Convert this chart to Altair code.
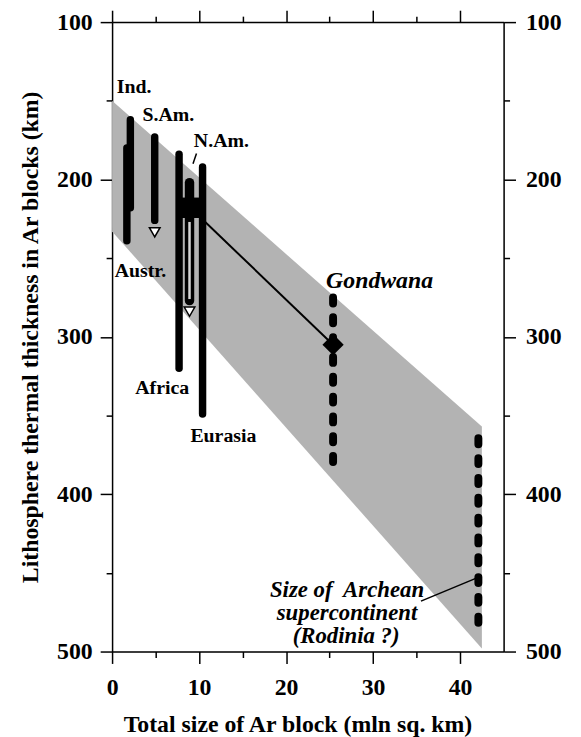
import altair as alt
import pandas as pd

# ---- data ----
band_x = [0, 42.5]
band_top = [150, 357]
band_bottom = [233, 498]

solid_names = ["Ind.", "Austr.", "S.Am.", "Africa", "Eurasia"]
solid_x = [2.1, 1.7, 4.9, 7.7, 10.4]
solid_top = [162, 180, 173, 184, 192]
solid_bottom = [218, 239, 226, 320, 349]

nam_x = [8.9]
nam_top = [202]
nam_bottom = [277]
nam_hollow_top = [227]
nam_hollow_bottom = [276]

arrow_x = [4.9, 8.9]
arrow_y = [233.6, 284]

avg_x = [7.7]
avg_x2 = [10.4]
avg_y = [211.5]
avg_y2 = [224.5]

trend_x = [9.0, 25.4]
trend_y = [218, 305]

gond_x = [25.4]
gond_y = [305]

dash_names = ["Gondwana", "Archean"]
dash_x = [25.4, 42.1]
dash_top = [275, 364.5]
dash_bottom = [387, 490]

leader_x = [9.3, 35.5]
leader_x2 = [9.7, 41.8]
leader_y = [190, 468]
leader_y2 = [183.5, 453.5]

lab_text = ["Ind.", "S.Am.", "N.Am.", "Austr.", "Africa", "Eurasia"]
lab_x = [0.55, 3.5, 9.4, 0.3, 2.66, 9.0]
lab_y = [141.4, 159.2, 175.6, 258.4, 332.6, 363]

it_text = ["Gondwana"]
it_x = [24.6]
it_y = [264.7]

arch_text = ["Size of\u00a0 Archean", "supercontinent", "(Rodinia ?)"]
arch_x = [27.0, 27.0, 26.9]
arch_y = [461.2, 475.6, 490]

x_ticks = [0, 5, 10, 15, 20, 25, 30, 35, 40]
y_ticks = [100, 150, 200, 250, 300, 350, 400, 450, 500]

FONT = "Liberation Serif"

XS = alt.Scale(domain=[0, 45], nice=False, zero=False)
YS = alt.Scale(domain=[100, 500], nice=False, zero=False, reverse=True)

tick_x = {"condition": {"test": "datum.value % 10 === 0", "value": 12}, "value": 6}
tick_y = {"condition": {"test": "datum.value % 100 === 0", "value": 12}, "value": 6}

common_axis = dict(
    domainColor="black", domainWidth=1.5, tickColor="black", tickWidth=1.5,
    labelFont=FONT, labelFontSize=24, labelFontWeight="bold", labelColor="black",
    titleFont=FONT, titleFontSize=24, titleFontWeight="bold", titleColor="black",
    grid=False, labelFlush=False, labelOverlap=False,
)

ax_bottom = alt.Axis(orient="bottom", values=x_ticks, tickSize=tick_x,
                     labelExpr="datum.value % 10 === 0 ? datum.label : ''",
                     labelPadding=12, title="Total size of Ar block (mln sq. km)",
                     titlePadding=14, titleX=187, titleAlign="center", **common_axis)
ax_left = alt.Axis(orient="left", values=y_ticks, tickSize=tick_y,
                   labelExpr="datum.value % 100 === 0 ? datum.label : ''",
                   labelPadding=8,
                   title="Lithosphere thermal thickness in Ar blocks (km)",
                   titlePadding=14, **common_axis)
ax_top = alt.Axis(orient="top", values=x_ticks, tickSize=tick_x, labels=False,
                  title=None, **common_axis)
ax_right = alt.Axis(orient="right", values=y_ticks, tickSize=tick_y,
                    labelExpr="datum.value % 100 === 0 ? datum.label : ''",
                    labelPadding=10, title=None, **common_axis)

band_df = pd.DataFrame({"x": band_x, "top": band_top, "bottom": band_bottom})
band = alt.Chart(band_df).mark_area(color="#b3b3b3", opacity=1).encode(
    x=alt.X("x:Q", scale=XS, axis=ax_bottom),
    y=alt.Y("top:Q", scale=YS, axis=ax_left),
    y2="bottom:Q",
)

frame = alt.Chart(band_df).mark_point(opacity=0).encode(
    x=alt.X("x:Q", scale=XS, axis=ax_top),
    y=alt.Y("top:Q", scale=YS, axis=ax_right),
)

trend_df = pd.DataFrame({"x": trend_x, "y": trend_y})
trend = alt.Chart(trend_df).mark_line(color="black", strokeWidth=2).encode(
    x=alt.X("x:Q", scale=XS, axis=None),
    y=alt.Y("y:Q", scale=YS, axis=None),
)

solid_df = pd.DataFrame({"name": solid_names, "x": solid_x, "top": solid_top, "bottom": solid_bottom})
solid = alt.Chart(solid_df).mark_rule(color="black", strokeWidth=7.5, strokeCap="round").encode(
    x=alt.X("x:Q", scale=XS, axis=None),
    y=alt.Y("top:Q", scale=YS, axis=None),
    y2="bottom:Q",
)

nam_df = pd.DataFrame({"x": nam_x, "top": nam_top, "bottom": nam_bottom,
                       "ht": nam_hollow_top, "hb": nam_hollow_bottom})
nam = alt.Chart(nam_df).mark_rule(color="black", strokeWidth=9.5, strokeCap="round").encode(
    x=alt.X("x:Q", scale=XS, axis=None),
    y=alt.Y("top:Q", scale=YS, axis=None),
    y2="bottom:Q",
)
nam_in = alt.Chart(nam_df).mark_rule(color="#d8d8d8", strokeWidth=2.5).encode(
    x=alt.X("x:Q", scale=XS, axis=None),
    y=alt.Y("ht:Q", scale=YS, axis=None),
    y2="hb:Q",
)

avg_df = pd.DataFrame({"x": avg_x, "x2": avg_x2, "y": avg_y, "y2": avg_y2})
avg = alt.Chart(avg_df).mark_rect(color="black").encode(
    x=alt.X("x:Q", scale=XS, axis=None), x2="x2:Q",
    y=alt.Y("y:Q", scale=YS, axis=None), y2="y2:Q",
)

arrow_df = pd.DataFrame({"x": arrow_x, "y": arrow_y})
arrows = alt.Chart(arrow_df).mark_point(shape="triangle-down", filled=True, fill="white",
                                        stroke="black", strokeWidth=1.5, size=115, opacity=1).encode(
    x=alt.X("x:Q", scale=XS, axis=None),
    y=alt.Y("y:Q", scale=YS, axis=None),
)

dash_df = pd.DataFrame({"name": dash_names, "x": dash_x, "top": dash_top, "bottom": dash_bottom})
dashed = alt.Chart(dash_df).mark_rule(color="black", strokeWidth=8, strokeCap="round",
                                      strokeDash=[6, 14]).encode(
    x=alt.X("x:Q", scale=XS, axis=None),
    y=alt.Y("top:Q", scale=YS, axis=None),
    y2="bottom:Q",
)

gond_df = pd.DataFrame({"x": gond_x, "y": gond_y})
diamond = alt.Chart(gond_df).mark_point(shape="diamond", filled=True, color="black",
                                        size=460, opacity=1).encode(
    x=alt.X("x:Q", scale=XS, axis=None),
    y=alt.Y("y:Q", scale=YS, axis=None),
)

lead_df = pd.DataFrame({"x": leader_x, "x2": leader_x2, "y": leader_y, "y2": leader_y2})
leaders = alt.Chart(lead_df).mark_rule(color="black", strokeWidth=1.5).encode(
    x=alt.X("x:Q", scale=XS, axis=None), x2="x2:Q",
    y=alt.Y("y:Q", scale=YS, axis=None), y2="y2:Q",
)

lab_df = pd.DataFrame({"t": lab_text, "x": lab_x, "y": lab_y})
labels = alt.Chart(lab_df).mark_text(font=FONT, fontSize=20, fontWeight="bold", color="black",
                                     align="left", baseline="middle").encode(
    x=alt.X("x:Q", scale=XS, axis=None),
    y=alt.Y("y:Q", scale=YS, axis=None),
    text="t:N",
)

it_df = pd.DataFrame({"t": it_text, "x": it_x, "y": it_y})
it_labels = alt.Chart(it_df).mark_text(font=FONT, fontSize=24, fontWeight="bold", fontStyle="italic",
                                       color="black", align="left", baseline="middle").encode(
    x=alt.X("x:Q", scale=XS, axis=None),
    y=alt.Y("y:Q", scale=YS, axis=None),
    text="t:N",
)

arch_df = pd.DataFrame({"t": arch_text, "x": arch_x, "y": arch_y})
arch_labels = alt.Chart(arch_df).mark_text(font=FONT, fontSize=23, fontWeight="bold", fontStyle="italic",
                                           color="black", align="center", baseline="middle").encode(
    x=alt.X("x:Q", scale=XS, axis=None),
    y=alt.Y("y:Q", scale=YS, axis=None),
    text="t:N",
)

chart = alt.layer(
    band, frame, trend, solid, nam, nam_in, avg, arrows, dashed, diamond, leaders,
    labels, it_labels, arch_labels,
).resolve_axis(x="independent", y="independent").properties(
    width=395, height=635,
    autosize=alt.AutoSizeParams(type="none"),
    padding={"left": 105, "top": 11, "right": 70, "bottom": 85},
).configure_view(stroke=None).configure(background="white")

chart.save("out.html", embed_options={"renderer": "svg", "actions": False})
